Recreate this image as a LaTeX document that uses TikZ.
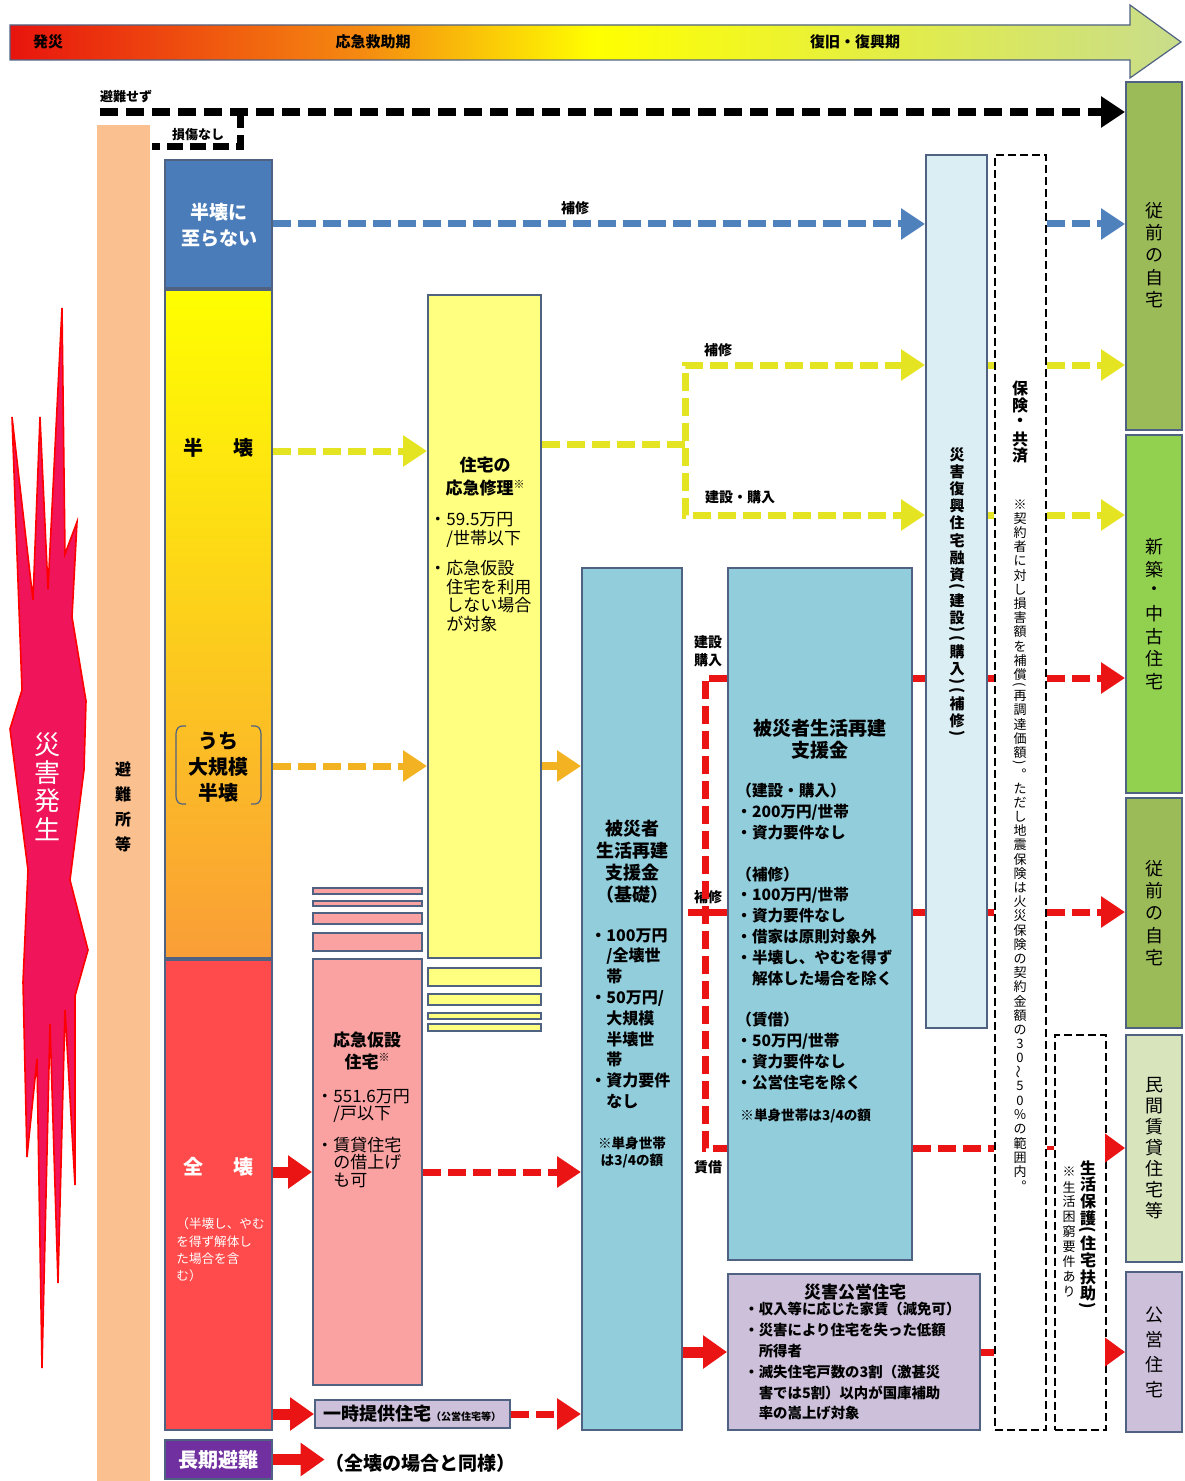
\documentclass[tikz,border=0pt]{standalone}
\usepackage{fontspec}
\setmainfont{Noto Sans CJK JP}
\usepackage{graphicx}
\usetikzlibrary{fit,arrows.meta}
\definecolor{bd}{RGB}{79,98,130}
\definecolor{nbC}{RGB}{74,124,186}
\definecolor{yelC}{RGB}{255,255,0}
\definecolor{oraC}{RGB}{250,158,55}
\definecolor{zenC}{RGB}{255,75,75}
\definecolor{purC}{RGB}{112,48,160}
\definecolor{oqC}{RGB}{255,255,128}
\definecolor{pinkC}{RGB}{250,162,162}
\definecolor{lavC}{RGB}{204,192,218}
\definecolor{kisoC}{RGB}{146,205,220}
\definecolor{fukC}{RGB}{219,238,244}
\definecolor{oliveC}{RGB}{155,187,89}
\definecolor{grnC}{RGB}{146,208,80}
\definecolor{lgrC}{RGB}{215,228,188}
\definecolor{shelC}{RGB}{250,192,143}
\definecolor{blueA}{RGB}{79,129,189}
\definecolor{yelA}{RGB}{228,228,35}
\definecolor{oraA}{RGB}{243,178,33}
\definecolor{redA}{RGB}{235,20,20}
\definecolor{burstC}{RGB}{240,20,90}
\definecolor{tlA}{RGB}{232,20,14}
\definecolor{tlB}{RGB}{245,138,16}
\definecolor{tlC}{RGB}{255,255,0}
\definecolor{tlD}{RGB}{200,220,140}
\pgfdeclarehorizontalshading{timeline}{100bp}{color(0bp)=(tlA); color(25bp)=(tlA); color(40bp)=(tlB); color(50bp)=(tlC); color(75bp)=(tlD); color(100bp)=(tlD)}
\newcommand\fsz[2]{\fontsize{#1}{#2}\selectfont}
\ExplSyntaxOn
\dim_new:N \l__vt_pitch_dim
\dim_new:N \l__vt_wd_dim
\cs_new_protected:Npn \__vt_cell:nn #1#2
 {
  \hbox_to_wd:nn {\l__vt_wd_dim}
   { \hss \vbox_to_ht:nn {#1} { \vss \hbox:n {#2} \vss } \hss }
 }
\NewDocumentCommand{\vt}{O{1.1em}m}
 {
  \dim_set:Nn \l__vt_pitch_dim {#1}
  \dim_set:Nn \l__vt_wd_dim {1.3em}
  \vbox:n
   {
    \offinterlineskip
    \tl_map_inline:nn {#2}
     {
      \bool_if:nTF { \str_if_eq_p:nn {##1} {(} || \str_if_eq_p:nn {##1} {)} }
       { \__vt_cell:nn {0.5\l__vt_pitch_dim} { \rotatebox[origin=c]{-90}{##1} } }
       { \__vt_cell:nn {\l__vt_pitch_dim} {##1} }
     }
   }
 }
\ExplSyntaxOff
\begin{document}
\begin{tikzpicture}[x=0.5pt,y=-0.5pt,
  bx/.style={draw=bd, line width=1pt, inner sep=0pt},
  lbl/.style={inner sep=0pt, align=center},
  dsh/.style={line width=3.5pt, dash pattern=on 9pt off 3.5pt},
  tip/.style={-{Triangle[length=12pt,width=15pt]}},
  rarr/.style={redA, line width=5.5pt, -{Triangle[length=12pt,width=16pt]}},
  sarr/.style={redA, line width=2pt, -{Triangle[length=10pt,width=14pt]}},
  dbox/.style={draw=black, line width=1.3pt, dash pattern=on 4pt off 2pt, inner sep=0pt}]
\useasboundingbox (0,0) rectangle (1184,1481);
% timeline
\shadedraw[shading=timeline, draw=bd, line width=0.6pt] (10,25) -- (1130,25) -- (1130,5) -- (1181,42) -- (1130,78) -- (1130,60) -- (10,60) -- cycle;
\node[lbl, font=\fsz{7.5}{8}\bfseries] (tl1) at (48,42) {発災};
\node[lbl, font=\fsz{7.5}{8}\bfseries] (tl2) at (373,42) {応急救助期};
\node[lbl, font=\fsz{7.5}{8}\bfseries] (tl3) at (855,42) {復旧・復興期};
% shelter column
\node[fill=shelC, fit={(97,125) (150,1481)}, inner sep=0pt] (shelter) {};
\node[lbl, font=\fsz{8}{8}\bfseries] (shelT) at (123,807) {\vt[12.5pt]{避難所等}};
% burst
\filldraw[fill=burstC, draw=red, line width=0.8pt] (12,417) -- (33,600) -- (40,417) -- (48,589) -- (62,308) -- (65,554) -- (77,522) -- (72,617) -- (86,701) -- (84,770) -- (70,880) -- (88,950) -- (75,996) -- (75,1185) -- (65,1010) -- (58,1283) -- (50,1024) -- (42,1368) -- (37,1059) -- (27,1157) -- (23,982) -- (28,870) -- (10,729) -- (22,690) -- cycle;
\node[lbl, text=white, font=\fsz{13}{13}] (burstT) at (47,787) {\vt[14pt]{災害発生}};
% left column
\node[bx, fill=nbC, fit={(165,160) (272,288)}] (nb) {};
\node[bx, top color=yelC, bottom color=oraC, fit={(165,290) (272,958)}] (hh) {};
\node[bx, fill=zenC, fit={(165,960) (272,1430)}] (zh) {};
\node[bx, fill=purC, fit={(165,1440) (272,1479)}] (lt) {};
\node[lbl, text=white, font=\fsz{9.5}{13}\bfseries] (nbT) at (219,225) {半壊に\\至らない};
\node[lbl, font=\fsz{10}{10}\bfseries] (hhT) at (218,448) {半\hspace{1.5em}壊};
\node[lbl, font=\fsz{10}{13}\bfseries] (dkT) at (218,767) {うち\\大規模\\半壊};
\draw[bd, line width=0.6pt] (186,726) -- (182,726) to[out=180,in=90] (176,734) -- (176,796) to[out=-90,in=180] (182,804) -- (186,804);
\draw[bd, line width=0.6pt] (251,726) -- (255,726) to[out=0,in=90] (261,734) -- (261,796) to[out=-90,in=0] (255,804) -- (251,804);
\node[lbl, text=white, font=\fsz{10}{10}\bfseries] (zhT) at (218,1167) {全\hspace{1.5em}壊};
\node[lbl, align=left, anchor=west, text=white, font=\fsz{6.3}{8.7}] (zhN) at (176,1250) {（半壊し、やむ\\を得ず解体し\\た場合を含\\む）};
\node[lbl, text=white, font=\fsz{10}{10}\bfseries] (ltT) at (218,1460) {長期避難};
% no evacuation
\node[lbl, font=\fsz{6.5}{7}\bfseries] (nsT) at (126,97) {避難せず};
\node[lbl, font=\fsz{6.5}{7}\bfseries] (ndT) at (198,135) {損傷なし};
\coordinate (nsStart) at (100,112);
\coordinate (nsBend) at (240,112);
\coordinate (nsEnd) at (152,147);
% middle boxes
\node[bx, fill=oqC, fit={(428,295) (541,958)}] (oq) {};
\foreach \a/\b [count=\i] in {968/986,994/1005,1013/1019,1024/1031}
  \node[bx, fill=oqC, fit={(428,\a) (541,\b)}] (oqs\i) {};
\foreach \a/\b [count=\i] in {888/894,901/906,913/924,933/951}
  \node[bx, fill=pinkC, fit={(313,\a) (422,\b)}] (ps\i) {};
\node[bx, fill=pinkC, fit={(313,959) (422,1385)}] (kasetsu) {};
\node[bx, fill=lavC, fit={(315,1400) (510,1428)}] (ichiji) {};
\node[bx, fill=kisoC, fit={(582,568) (682,1430)}] (kiso) {};
\node[bx, fill=kisoC, fit={(728,568) (912,1260)}] (shien) {};
\node[bx, fill=lavC, fit={(728,1274) (980,1430)}] (koei) {};
\node[bx, fill=fukC, fit={(926,155) (987,1028)}] (yushi) {};
\node[dbox, fit={(995,155) (1046,1430)}] (hoken) {};
\node[dbox, fit={(1055,1035) (1106,1430)}] (seiho) {};
% right column
\node[bx, fill=oliveC, fit={(1126,82) (1182,430)}] (r1) {};
\node[bx, fill=grnC, fit={(1126,435) (1182,793)}] (r2) {};
\node[bx, fill=oliveC, fit={(1126,798) (1182,1028)}] (r3) {};
\node[bx, fill=lgrC, fit={(1126,1035) (1182,1262)}] (r4) {};
\node[bx, fill=lavC, fit={(1126,1272) (1182,1432)}] (r5) {};
\node[lbl, font=\fsz{9}{9}] (r1T) at (1154,255) {\vt[11.2pt]{従前の自宅}};
\node[lbl, font=\fsz{9}{9}] (r2T) at (1154,614) {\vt[11.2pt]{新築・中古住宅}};
\node[lbl, font=\fsz{9}{9}] (r3T) at (1154,913) {\vt[11.2pt]{従前の自宅}};
\node[lbl, font=\fsz{9}{9}] (r4T) at (1154,1148) {\vt[10.5pt]{民間賃貸住宅等}};
\node[lbl, font=\fsz{9}{9}] (r5T) at (1154,1352) {\vt[12.5pt]{公営住宅}};
% texts in middle boxes
\node[lbl, font=\fsz{8.5}{11.5}\bfseries] (oqT) at (485,477) {住宅の\\応急修理\raisebox{0.4em}{\fsz{5.5}{6}※}};
\node[lbl, align=left, anchor=north west, font=\fsz{8.5}{9.3}] (oqB) at (429,512) {・59.5万円\\\phantom{・}/世帯以下\\[6pt]・応急仮設\\\phantom{・}住宅を利用\\\phantom{・}しない場合\\\phantom{・}が対象};
\node[lbl, font=\fsz{8.5}{11}\bfseries] (kaT) at (367,1051) {応急仮設\\住宅\raisebox{0.4em}{\fsz{5.5}{6}※}};
\node[lbl, align=left, anchor=north west, font=\fsz{8.5}{8.7}] (kaB) at (316,1089) {・551.6万円\\\phantom{・}/戸以下\\[7pt]・賃貸住宅\\\phantom{・}の借上げ\\\phantom{・}も可};
\node[lbl, font=\fsz{7}{8}\bfseries] (icT) at (412,1414) {{\fsz{9}{9}一時提供住宅}{\fsz{5}{5}（公営住宅等）}};
\node[lbl, font=\fsz{9}{11}\bfseries] (kiT) at (632,862) {被災者\\生活再建\\支援金\\（基礎）};
\node[lbl, align=left, anchor=north west, font=\fsz{8}{10.4}\bfseries] (kiB) at (590,928) {・100万円\\\phantom{・}/全壊世\\\phantom{・}帯\\・50万円/\\\phantom{・}大規模\\\phantom{・}半壊世\\\phantom{・}帯\\・資力要件\\\phantom{・}なし};
\node[lbl, font=\fsz{6.8}{8.5}\bfseries] (kiN) at (632,1152) {※単身世帯\\は3/4の額};
\node[lbl, font=\fsz{9.5}{11}\bfseries] (shT) at (820,739) {被災者生活再建\\支援金};
\node[lbl, align=left, anchor=north west, font=\fsz{7.8}{10.4}\bfseries] (shB) at (736,783) {（建設・購入）\\・200万円/世帯\\・資力要件なし\\[10.4pt]（補修）\\・100万円/世帯\\・資力要件なし\\・借家は原則対象外\\・半壊し、やむを得ず\\\phantom{・}解体した場合を除く\\[10.4pt]（賃借）\\・50万円/世帯\\・資力要件なし\\・公営住宅を除く};
\node[lbl, anchor=west, font=\fsz{6.8}{7}\bfseries] (shN) at (740,1116) {※単身世帯は3/4の額};
\node[lbl, font=\fsz{8.5}{9}\bfseries] (koT) at (855,1292) {災害公営住宅};
\node[lbl, align=left, anchor=north west, font=\fsz{7.2}{10.4}\bfseries] (koB) at (744,1302) {・収入等に応じた家賃（減免可）\\・災害により住宅を失った低額\\\phantom{・}所得者\\・滅失住宅戸数の3割（激甚災\\\phantom{・}害では5割）以内が国庫補助\\\phantom{・}率の嵩上げ対象};
% vertical texts
\node[lbl, font=\fsz{7.5}{8}\bfseries] (yuT) at (957,592) {\vt[8.6pt]{災害復興住宅融資(建設)(購入)(補修)}};
\node[lbl, font=\fsz{8}{8}\bfseries] (hoT) at (1020,422) {\vt[8.5pt]{保険・共済}};
\node[lbl, font=\fsz{6.5}{7}] (hoN) at (1020,845) {\vt[7.1pt]{※契約者に対し損害額を補償(再調達価額)︒ただし地震保険は火災保険の契約金額の30{\rotatebox[origin=c]{90}{～}}50％の範囲内︒}};
\node[lbl, font=\fsz{8}{8}\bfseries] (seT) at (1088,1235) {\vt[8.4pt]{生活保護(住宅扶助)}};
\node[lbl, font=\fsz{6.5}{7}] (seN) at (1069,1232) {\vt[7.5pt]{※生活困窮要件あり}};
% bottom label
\node[lbl, font=\fsz{9.5}{10}\bfseries] (same) at (420,1463) {（全壊の場合と同様）};
% connector labels
\node[lbl, font=\fsz{7}{8}\bfseries] (lb1) at (575,208) {補修};
\node[lbl, font=\fsz{7}{8}\bfseries] (lb2) at (718,350) {補修};
\node[lbl, font=\fsz{7}{8}\bfseries] (lb3) at (740,497) {建設・購入};
\node[lbl, font=\fsz{7}{9}\bfseries] (lb4) at (708,651) {建設\\購入};
\node[lbl, font=\fsz{7}{8}\bfseries] (lb5) at (708,897) {補修};
\node[lbl, font=\fsz{7}{8}\bfseries] (lb6) at (708,1167) {賃借};
% ---- connectors
\draw[line width=4pt, dash pattern=on 9pt off 4pt, tip] (nsStart) -- (r1.west |- nsStart);
\draw[line width=3.5pt, dash pattern=on 8pt off 3.5pt] (nsBend) |- (nsEnd);
% blue
\draw[dsh, blueA, tip] (nb.east) -- (yushi.west |- nb.east);
\draw[dsh, blueA, tip] (hoken.east |- nb.east) -- (r1.west |- nb.east);
% yellow
\coordinate (yH) at (272,451);
\coordinate (ySplit) at (685,444);
\coordinate (yUp) at (685,365);
\coordinate (yDn) at (685,515);
\draw[dsh, yelA, tip] (hh.east |- yH) -- (oq.west |- yH);
\draw[dsh, yelA] (oq.east |- ySplit) -- (ySplit);
\draw[dsh, yelA, {Triangle[length=12pt,width=15pt]}-{Triangle[length=12pt,width=15pt]}] (yushi.west |- yUp) -- (yUp) -- (yDn) -- (yushi.west |- yDn);
\draw[dsh, yelA] (yushi.east |- yUp) -- (hoken.west |- yUp);
\draw[dsh, yelA] (yushi.east |- yDn) -- (hoken.west |- yDn);
\draw[dsh, yelA, tip] (hoken.east |- yUp) -- (r1.west |- yUp);
\draw[dsh, yelA, tip] (hoken.east |- yDn) -- (r2.west |- yDn);
% orange
\coordinate (oH) at (272,766);
\draw[dsh, oraA, tip] (hh.east |- oH) -- (oq.west |- oH);
\draw[line width=4pt, oraA, tip] (oq.east |- oH) -- (kiso.west |- oH);
% red from zenkai
\coordinate (zH) at (272,1172);
\draw[rarr] (zh.east |- zH) -- (kasetsu.west |- zH);
\draw[dsh, redA, tip] (kasetsu.east |- zH) -- (kiso.west |- zH);
\draw[rarr] (zh.east |- ichiji.west) -- (ichiji.west);
\draw[dsh, redA, tip] (ichiji.east) -- (kiso.west |- ichiji.east);
\draw[rarr] (kiso.east |- koei.west) -- (koei.west);
\draw[rarr] (lt.east) -- (same.west |- lt.east);
% red bracket
\coordinate (rTop) at (705,678);
\coordinate (rMid) at (688,912);
\coordinate (rBot) at (705,1148);
\draw[dsh, redA] (shien.west |- rTop) -- (rTop) -- (rBot) -- (shien.west |- rBot);
\draw[line width=3.5pt, redA] (rMid) -- (shien.west |- rMid);
\draw[dsh, redA] (shien.east |- rTop) -- (yushi.west |- rTop);
\draw[dsh, redA] (yushi.east |- rTop) -- (hoken.west |- rTop);
\draw[dsh, redA, tip] (hoken.east |- rTop) -- (r2.west |- rTop);
\draw[dsh, redA] (shien.east |- rMid) -- (yushi.west |- rMid);
\draw[dsh, redA] (yushi.east |- rMid) -- (hoken.west |- rMid);
\draw[dsh, redA, tip] (hoken.east |- rMid) -- (r3.west |- rMid);
\draw[dsh, redA] (shien.east |- rBot) -- (hoken.west |- rBot);
\draw[line width=2pt, redA] (hoken.east |- rBot) -- (seiho.west |- rBot);
\draw[sarr] (seiho.east |- rBot) -- (r4.west |- rBot);
\draw[dsh, redA] (koei.east) -- (hoken.west |- koei.east);
\draw[sarr] (seiho.east |- koei.east) -- (r5.west |- koei.east);
\end{tikzpicture}
\end{document}
